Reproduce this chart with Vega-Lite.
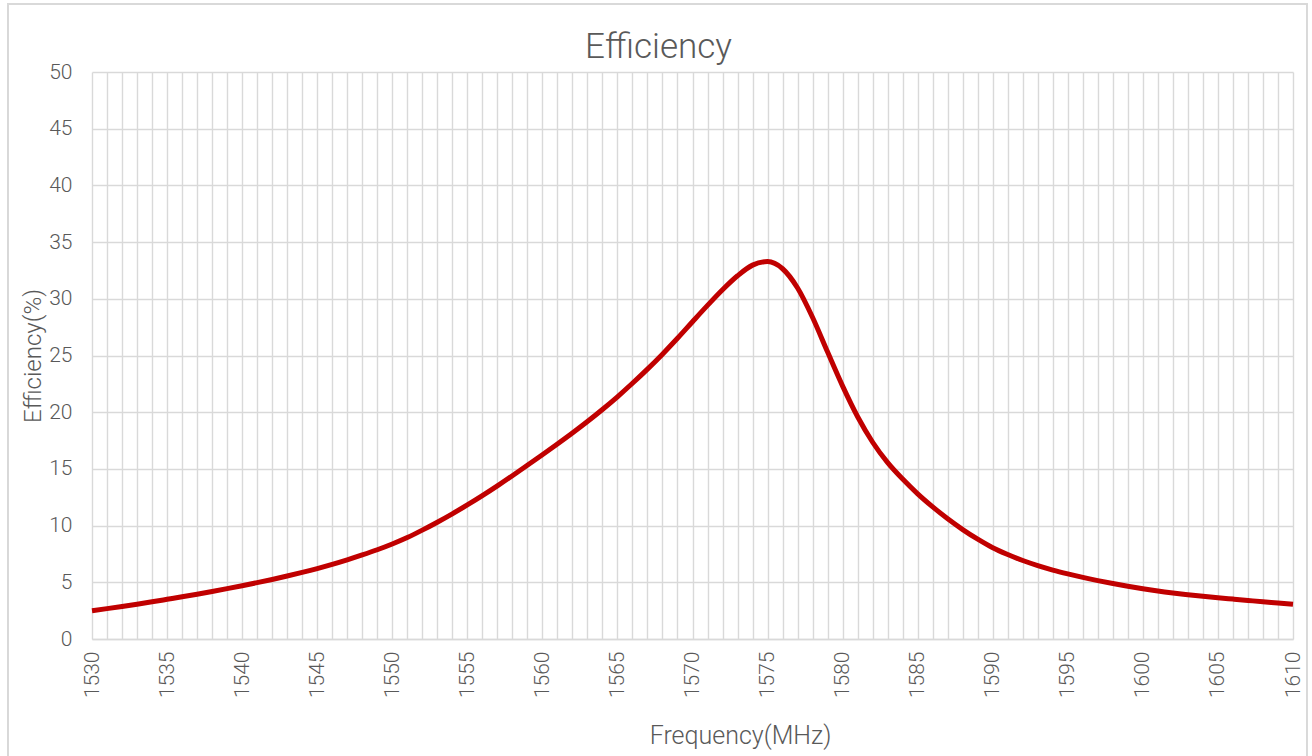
{
  "$schema": "https://vega.github.io/schema/vega-lite/v6.json",
  "autosize": "none",
  "width": 1201,
  "height": 567,
  "padding": {"left": 92, "top": 72, "right": 19, "bottom": 117},
  "background": "white",
  "config": {
    "view": {"stroke": null},
    "font": "Roboto",
    "axis": {"gridColor": "#d9d9d9", "gridWidth": 1.4, "domainColor": "#d9d9d9", "domainWidth": 1.4, "ticks": false, "labelColor": "#595959", "titleColor": "#595959", "labelFont": "Roboto", "titleFont": "Roboto", "labelFontWeight": 300, "labelFontSize": 21, "titleFontSize": 24, "titleFontWeight": 300}
  },
  "title": {"text": "Efficiency", "fontSize": 35, "fontWeight": 300, "color": "#595959", "font": "Roboto", "anchor": "middle", "baseline": "top", "offset": -62, "dx": -34},
  "data": {"values": [
    {"Frequency": 1530, "Efficiency": 2.5},
    {"Frequency": 1531, "Efficiency": 2.68},
    {"Frequency": 1532, "Efficiency": 2.87},
    {"Frequency": 1533, "Efficiency": 3.07},
    {"Frequency": 1534, "Efficiency": 3.28},
    {"Frequency": 1535, "Efficiency": 3.5},
    {"Frequency": 1536, "Efficiency": 3.72},
    {"Frequency": 1537, "Efficiency": 3.95},
    {"Frequency": 1538, "Efficiency": 4.19},
    {"Frequency": 1539, "Efficiency": 4.44},
    {"Frequency": 1540, "Efficiency": 4.7},
    {"Frequency": 1541, "Efficiency": 4.97},
    {"Frequency": 1542, "Efficiency": 5.25},
    {"Frequency": 1543, "Efficiency": 5.55},
    {"Frequency": 1544, "Efficiency": 5.87},
    {"Frequency": 1545, "Efficiency": 6.21},
    {"Frequency": 1546, "Efficiency": 6.58},
    {"Frequency": 1547, "Efficiency": 6.98},
    {"Frequency": 1548, "Efficiency": 7.41},
    {"Frequency": 1549, "Efficiency": 7.87},
    {"Frequency": 1550, "Efficiency": 8.38},
    {"Frequency": 1551, "Efficiency": 8.95},
    {"Frequency": 1552, "Efficiency": 9.6},
    {"Frequency": 1553, "Efficiency": 10.3},
    {"Frequency": 1554, "Efficiency": 11.04},
    {"Frequency": 1555, "Efficiency": 11.82},
    {"Frequency": 1556, "Efficiency": 12.64},
    {"Frequency": 1557, "Efficiency": 13.5},
    {"Frequency": 1558, "Efficiency": 14.4},
    {"Frequency": 1559, "Efficiency": 15.32},
    {"Frequency": 1560, "Efficiency": 16.25},
    {"Frequency": 1561, "Efficiency": 17.2},
    {"Frequency": 1562, "Efficiency": 18.17},
    {"Frequency": 1563, "Efficiency": 19.18},
    {"Frequency": 1564, "Efficiency": 20.24},
    {"Frequency": 1565, "Efficiency": 21.36},
    {"Frequency": 1566, "Efficiency": 22.55},
    {"Frequency": 1567, "Efficiency": 23.8},
    {"Frequency": 1568, "Efficiency": 25.12},
    {"Frequency": 1569, "Efficiency": 26.52},
    {"Frequency": 1570, "Efficiency": 27.98},
    {"Frequency": 1571, "Efficiency": 29.42},
    {"Frequency": 1572, "Efficiency": 30.8},
    {"Frequency": 1573, "Efficiency": 32.03},
    {"Frequency": 1574, "Efficiency": 32.97},
    {"Frequency": 1575, "Efficiency": 33.28},
    {"Frequency": 1576, "Efficiency": 32.65},
    {"Frequency": 1577, "Efficiency": 30.95},
    {"Frequency": 1578, "Efficiency": 28.35},
    {"Frequency": 1579, "Efficiency": 25.3},
    {"Frequency": 1580, "Efficiency": 22.3},
    {"Frequency": 1581, "Efficiency": 19.6},
    {"Frequency": 1582, "Efficiency": 17.35},
    {"Frequency": 1583, "Efficiency": 15.55},
    {"Frequency": 1584, "Efficiency": 14.1},
    {"Frequency": 1585, "Efficiency": 12.8},
    {"Frequency": 1586, "Efficiency": 11.65},
    {"Frequency": 1587, "Efficiency": 10.6},
    {"Frequency": 1588, "Efficiency": 9.65},
    {"Frequency": 1589, "Efficiency": 8.8},
    {"Frequency": 1590, "Efficiency": 8.05},
    {"Frequency": 1591, "Efficiency": 7.45},
    {"Frequency": 1592, "Efficiency": 6.92},
    {"Frequency": 1593, "Efficiency": 6.47},
    {"Frequency": 1594, "Efficiency": 6.08},
    {"Frequency": 1595, "Efficiency": 5.74},
    {"Frequency": 1596, "Efficiency": 5.43},
    {"Frequency": 1597, "Efficiency": 5.15},
    {"Frequency": 1598, "Efficiency": 4.89},
    {"Frequency": 1599, "Efficiency": 4.65},
    {"Frequency": 1600, "Efficiency": 4.43},
    {"Frequency": 1601, "Efficiency": 4.23},
    {"Frequency": 1602, "Efficiency": 4.06},
    {"Frequency": 1603, "Efficiency": 3.91},
    {"Frequency": 1604, "Efficiency": 3.77},
    {"Frequency": 1605, "Efficiency": 3.64},
    {"Frequency": 1606, "Efficiency": 3.52},
    {"Frequency": 1607, "Efficiency": 3.4},
    {"Frequency": 1608, "Efficiency": 3.28},
    {"Frequency": 1609, "Efficiency": 3.17},
    {"Frequency": 1610, "Efficiency": 3.06}
  ]},
  "layer": [
    {
      "mark": {"type": "rect", "fill": null, "stroke": "#d9d9d9", "strokeWidth": 1.5, "clip": false},
      "encoding": {
        "x": {"datum": 1524.4, "type": "quantitative", "scale": {"domain": [1530, 1610], "nice": false, "zero": false},
          "axis": {
            "title": "Frequency(MHz)", "grid": true,
            "values": [1530,1531,1532,1533,1534,1535,1536,1537,1538,1539,1540,1541,1542,1543,1544,1545,1546,1547,1548,1549,1550,1551,1552,1553,1554,1555,1556,1557,1558,1559,1560,1561,1562,1563,1564,1565,1566,1567,1568,1569,1570,1571,1572,1573,1574,1575,1576,1577,1578,1579,1580,1581,1582,1583,1584,1585,1586,1587,1588,1589,1590,1591,1592,1593,1594,1595,1596,1597,1598,1599,1600,1601,1602,1603,1604,1605,1606,1607,1608,1609,1610],
            "format": "d",
            "labelExpr": "datum.value % 5 === 0 ? datum.label : ''",
            "labelAngle": -90,
            "labelPadding": 12,
            "labelOverlap": false,
            "labelBound": false,
            "labelFlush": false,
            "titleFontSize": 25,
            "titleX": 648,
            "titleY": 104,
            "titleAlign": "center",
            "titleBaseline": "alphabetic"
          }},
        "x2": {"datum": 1610.93},
        "y": {"datum": 56.0, "type": "quantitative", "scale": {"domain": [0, 50], "nice": false},
          "axis": {
            "title": "Efficiency(%)", "grid": true,
            "values": [0,5,10,15,20,25,30,35,40,45,50],
            "labelPadding": 20,
            "titlePadding": 3,
            "domain": false
          }},
        "y2": {"datum": -12}
      }
    },
    {
      "mark": {"type": "line", "color": "#C00000", "strokeWidth": 5, "interpolate": "monotone", "strokeCap": "butt"},
      "encoding": {
        "x": {
          "field": "Frequency", "type": "quantitative",
          "scale": {"domain": [1530, 1610], "nice": false, "zero": false},
          "axis": {
            "title": "Frequency(MHz)", "grid": true,
            "values": [1530,1531,1532,1533,1534,1535,1536,1537,1538,1539,1540,1541,1542,1543,1544,1545,1546,1547,1548,1549,1550,1551,1552,1553,1554,1555,1556,1557,1558,1559,1560,1561,1562,1563,1564,1565,1566,1567,1568,1569,1570,1571,1572,1573,1574,1575,1576,1577,1578,1579,1580,1581,1582,1583,1584,1585,1586,1587,1588,1589,1590,1591,1592,1593,1594,1595,1596,1597,1598,1599,1600,1601,1602,1603,1604,1605,1606,1607,1608,1609,1610],
            "format": "d",
            "labelExpr": "datum.value % 5 === 0 ? datum.label : ''",
            "labelAngle": -90,
            "labelPadding": 12,
            "labelOverlap": false,
            "labelBound": false,
            "labelFlush": false,
            "titleFontSize": 25,
            "titleX": 648,
            "titleY": 104,
            "titleAlign": "center",
            "titleBaseline": "alphabetic"
          }
        },
        "y": {
          "field": "Efficiency", "type": "quantitative",
          "scale": {"domain": [0, 50], "nice": false},
          "axis": {
            "title": "Efficiency(%)", "grid": true,
            "values": [0,5,10,15,20,25,30,35,40,45,50],
            "labelPadding": 20,
            "titlePadding": 3,
            "domain": false
          }
        }
      }
    }
  ]
}
